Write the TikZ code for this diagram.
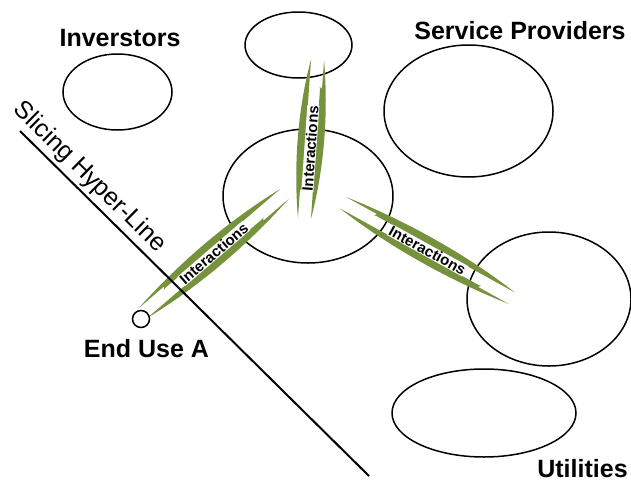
\documentclass[tikz,border=0pt]{standalone}
\usepackage{fontspec}
\setmainfont{Liberation Sans}
\usetikzlibrary{shapes.geometric}
\definecolor{olivegreen}{HTML}{76923C}
\tikzset{
  bubble/.style={draw=black, line width=1.5pt, ellipse, inner sep=0pt},
  lbl/.style={font=\fontsize{25}{30}\selectfont\bfseries, inner sep=0pt, anchor=base},
  slbl/.style={font=\fontsize{25}{30}\selectfont, inner sep=0pt, anchor=base},
  itext/.style={font=\fontsize{15}{18}\selectfont\bfseries, fill=white, inner sep=0.5pt},
  sliver/.style={fill=olivegreen, draw=none},
  hyper/.style={draw=black, line width=2pt},
  endpt/.style={circle, draw=black, fill=white, line width=1.5pt, minimum size=17pt, inner sep=0pt},
}
% #1 name, #2 centre, #3 angle, #4 half length, #5 text offset
\newcommand\interact[5]{%
  \begin{scope}[shift={#2}, rotate=#3, x=1pt, y=1pt]
    \pgfmathsetmacro\hh{#4}
    \pgfmathsetmacro\nn{-0.64*#4}
    \foreach \r in {0,180}{
      \fill[sliver, rotate=\r] (-\hh,7.5) .. controls (-0.35*\hh,15.5) and (0.35*\hh,15.5) .. (\hh,5.5)
        -- (\nn,5.5) -- (\nn-1.8,4.9) -- (\nn+0.3,7.5) -- cycle;
    }
    \node[itext, rotate=#3] (#1) at (#5,0) {Interactions};
  \end{scope}}
\begin{document}
\begin{tikzpicture}[x=1pt, y=-1pt]
\useasboundingbox (0,0) rectangle (631,482);
% ellipses
\node[bubble, minimum width=109pt, minimum height=76pt] (inv) at (117.5,92) {};
\node[bubble, minimum width=107pt, minimum height=66pt] (top) at (298.5,45) {};
\node[bubble, minimum width=170pt, minimum height=134pt] (mid) at (308,196) {};
\node[bubble, minimum width=169pt, minimum height=132pt] (serv) at (468.5,111) {};
\node[bubble, minimum width=164pt, minimum height=134pt] (right) at (549,299) {};
\node[bubble, minimum width=184pt, minimum height=88pt] (util) at (484,413) {};
% interactions
\interact{i1}{(213.75,253.5)}{40.7}{92.7}{0}
\interact{i2}{(311,139)}{86}{79.7}{-9.5}
\interact{i3}{(427.5,250.5)}{-28.9}{97.1}{0}
% slicing line
\coordinate (sl1) at (20,131);
\coordinate (sl2) at (369,476);
\draw[hyper] (sl1) -- (sl2);
\node[slbl, rotate=-44.5] (slt) at (85,182) {Slicing Hyper-Line};
% end point
\node[endpt] (endA) at (141,319) {};
% labels
\node[lbl] (linv) at (120,46) {Inverstors};
\node[lbl] (lserv) at (520,39) {Service Providers};
\node[lbl] (lend) at (146.5,357) {End Use A};
\node[lbl] (lutil) at (582.5,477) {Utilities};
\end{tikzpicture}
\end{document}
